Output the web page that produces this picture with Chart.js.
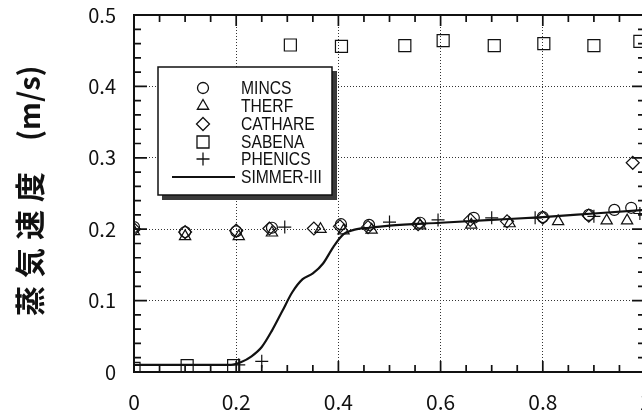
<!DOCTYPE html>
<html><head><meta charset="utf-8">
<script src="https://cdn.jsdelivr.net/npm/chart.js@4"></script>
<style>
html,body{margin:0;padding:0;overflow:hidden;background:#fff;width:642px;height:411px}
#wrap{position:absolute;left:0;top:0;width:662px;height:411px}
</style></head><body><div id="wrap"><canvas id="c" width="662" height="411"></canvas></div>
<script>
// ---- data ----
const mincsX = [0, 0.10, 0.20, 0.27, 0.405, 0.46, 0.56, 0.665, 0.80, 0.89, 0.94, 0.973];
const mincsY = [0.203, 0.196, 0.197, 0.202, 0.207, 0.206, 0.209, 0.216, 0.217, 0.220, 0.227, 0.230];
const therfX = [0, 0.10, 0.205, 0.27, 0.365, 0.41, 0.465, 0.56, 0.66, 0.735, 0.83, 0.925, 0.965];
const therfY = [0.197, 0.190, 0.190, 0.195, 0.200, 0.198, 0.199, 0.205, 0.206, 0.208, 0.211, 0.212, 0.212];
const cathareX = [0, 0.10, 0.20, 0.265, 0.352, 0.403, 0.458, 0.556, 0.658, 0.73, 0.80, 0.89, 0.976];
const cathareY = [0.200, 0.196, 0.198, 0.201, 0.201, 0.204, 0.203, 0.207, 0.213, 0.211, 0.216, 0.219, 0.293];
const sabenaX = [0, 0.104, 0.195, 0.306, 0.406, 0.53, 0.605, 0.705, 0.802, 0.90, 0.99];
const sabenaY = [0.005, 0.009, 0.009, 0.458, 0.456, 0.457, 0.464, 0.457, 0.460, 0.457, 0.463];
const phenicsX = [0, 0.205, 0.25, 0.295, 0.50, 0.595, 0.70, 0.785, 0.90, 0.99];
const phenicsY = [0.200, 0.010, 0.015, 0.203, 0.210, 0.213, 0.216, 0.216, 0.218, 0.222];
const simmerX = [0, 0.10, 0.19, 0.21, 0.23, 0.25, 0.27, 0.29, 0.31, 0.33, 0.35, 0.37, 0.39, 0.41, 0.43, 0.46, 0.50, 0.60, 0.70, 0.80, 0.90, 1.00];
const simmerY = [0.010, 0.010, 0.010, 0.014, 0.022, 0.035, 0.058, 0.085, 0.112, 0.130, 0.138, 0.152, 0.175, 0.193, 0.199, 0.202, 0.205, 0.209, 0.213, 0.217, 0.222, 0.227];

const seriesNames = ['MINCS', 'THERF', 'CATHARE', 'SABENA', 'PHENICS', 'SIMMER-III'];
const xTickLabels = ['0', '0.2', '0.4', '0.6', '0.8', '1'];
const yTickLabels = ['0', '0.1', '0.2', '0.3', '0.4', '0.5'];
const xMajor = [0.2, 0.4, 0.6, 0.8];
const xMinor = [0.05, 0.1, 0.15, 0.25, 0.3, 0.35, 0.45, 0.5, 0.55, 0.65, 0.7, 0.75, 0.85, 0.9, 0.95];
const yMajor = [0.1, 0.2, 0.3, 0.4];
const yMinor = [0.02, 0.04, 0.06, 0.08, 0.12, 0.14, 0.16, 0.18, 0.22, 0.24, 0.26, 0.28, 0.32, 0.34, 0.36, 0.38, 0.42, 0.44, 0.46, 0.48];
const yTitleChars = ['蒸', '気', '速', '度'];
const yTitleUnit = '(m/s)';

const pts = (xs, ys) => xs.map((x, i) => ({x, y: ys[i]}));
const INK = '#111';
const mk = (label, xs, ys, style, r) => ({
  label, data: pts(xs, ys), type: 'scatter', showLine: false,
  pointStyle: style, pointRadius: r, pointHoverRadius: r,
  borderColor: INK, backgroundColor: 'rgba(0,0,0,0)', pointBorderWidth: 1.2, borderWidth: 1.2
});

const datasets = [
  {label: seriesNames[5], data: pts(simmerX, simmerY), type: 'line', borderColor: INK, borderWidth: 2.2,
   pointRadius: 0, cubicInterpolationMode: 'monotone', fill: false},
  mk(seriesNames[0], mincsX, mincsY, 'circle', 5.5),
  mk(seriesNames[1], therfX, therfY, 'triangle', 6.5),
  mk(seriesNames[2], cathareX, cathareY, 'rectRot', 6.5),
  mk(seriesNames[3], sabenaX, sabenaY, 'rect', 8.5),
  mk(seriesNames[4], phenicsX, phenicsY, 'cross', 6.5)
];

// pin the plot area to the reference's position
const AREA = {left: 134, top: 15, right: 645, bottom: 372};
const pinPlugin = {
  id: 'pin',
  afterLayout(chart) {
    const {x, y} = chart.scales;
    const H = chart.height;
    Object.assign(chart.chartArea, {left: AREA.left, top: AREA.top, right: AREA.right, bottom: AREA.bottom,
      width: AREA.right - AREA.left, height: AREA.bottom - AREA.top});
    Object.assign(x, {left: AREA.left, right: AREA.right, width: AREA.right - AREA.left,
      top: AREA.bottom, bottom: H, height: H - AREA.bottom});
    Object.assign(y, {left: 0, right: AREA.left, width: AREA.left,
      top: AREA.top, bottom: AREA.bottom, height: AREA.bottom - AREA.top});
    x.configure(); y.configure();
    x._labelItems = null; y._labelItems = null;
    x._gridLineItems = null; y._gridLineItems = null;
  }
};

const framePlugin = {
  id: 'frame',
  afterDatasetsDraw(chart) {
    const {ctx, chartArea: a, scales: {x, y}} = chart;
    ctx.save();
    ctx.strokeStyle = INK;
    ctx.lineWidth = 2;
    ctx.strokeRect(a.left, a.top, a.right - a.left, a.bottom - a.top);
    ctx.lineWidth = 1.7;
    ctx.beginPath();
    const tx = (v, len) => { const p = x.getPixelForValue(v);
      ctx.moveTo(p, a.bottom); ctx.lineTo(p, a.bottom - len);
      ctx.moveTo(p, a.top); ctx.lineTo(p, a.top + len); };
    const ty = (v, len) => { const p = y.getPixelForValue(v);
      ctx.moveTo(a.left, p); ctx.lineTo(a.left + len, p);
      ctx.moveTo(a.right, p); ctx.lineTo(a.right - len, p); };
    xMajor.forEach(v => tx(v, 11)); xMinor.forEach(v => tx(v, 7));
    yMajor.forEach(v => ty(v, 13)); yMinor.forEach(v => ty(v, 7));
    ctx.stroke();
    ctx.restore();
  }
};

const titlePlugin = {
  id: 'yTitle',
  afterDraw(chart) {
    const ctx = chart.ctx;
    ctx.save();
    ctx.translate(29, 0);
    ctx.rotate(-Math.PI / 2);
    ctx.fillStyle = INK;
    ctx.textAlign = 'center';
    ctx.textBaseline = 'middle';
    ctx.font = 'bold 30px "Noto Sans CJK JP", sans-serif';
    const centers = [301, 263, 225, 187];
    yTitleChars.forEach((ch, i) => ctx.fillText(ch, -centers[i], 1));
    ctx.font = 'bold 29px "Noto Sans CJK JP", sans-serif';
    ctx.textAlign = 'left';
    ctx.fillText(yTitleUnit, -141, 0);
    ctx.restore();
  }
};

function drawSym(ctx, style, cx, cy, r) {
  ctx.beginPath();
  if (style === 'circle') { ctx.arc(cx, cy, r, 0, Math.PI * 2); }
  else if (style === 'triangle') {
    ctx.moveTo(cx, cy - r); ctx.lineTo(cx + r * Math.sin(2.0944), cy - r * Math.cos(2.0944));
    ctx.lineTo(cx - r * Math.sin(2.0944), cy - r * Math.cos(2.0944)); ctx.closePath();
  } else if (style === 'rectRot') {
    ctx.moveTo(cx, cy - r); ctx.lineTo(cx + r, cy); ctx.lineTo(cx, cy + r); ctx.lineTo(cx - r, cy); ctx.closePath();
  } else if (style === 'rect') {
    const s = r * Math.SQRT1_2; ctx.rect(cx - s, cy - s, 2 * s, 2 * s);
  } else if (style === 'cross') {
    ctx.moveTo(cx - r, cy); ctx.lineTo(cx + r, cy); ctx.moveTo(cx, cy - r); ctx.lineTo(cx, cy + r);
  }
  ctx.stroke();
}

const legendPlugin = {
  id: 'boxLegend',
  afterDraw(chart) {
    const ctx = chart.ctx;
    const L = 158, T = 67, W = 174, H = 128;
    ctx.save();
    ctx.fillStyle = '#3a3a3a';
    ctx.fillRect(L + 4, T + 4, W + 1, H + 1);
    ctx.fillStyle = '#fff';
    ctx.fillRect(L, T, W, H);
    ctx.strokeStyle = INK; ctx.lineWidth = 1.5;
    ctx.strokeRect(L, T, W, H);
    const rows = [88, 106, 124, 142, 159, 177];
    const order = [1, 2, 3, 4, 5, 0];
    ctx.textBaseline = 'middle';
    ctx.textAlign = 'left';
    order.forEach((di, i) => {
      const ds = chart.data.datasets[di];
      const yy = rows[i];
      ctx.strokeStyle = INK; ctx.fillStyle = INK;
      if (ds.type === 'line') {
        ctx.lineWidth = 2.2;
        ctx.beginPath(); ctx.moveTo(172, yy); ctx.lineTo(235, yy); ctx.stroke();
      } else {
        ctx.lineWidth = 1.3;
        drawSym(ctx, ds.pointStyle, 203, yy, ds.pointRadius);
      }
      ctx.save();
      ctx.translate(241, yy + 1);
      ctx.scale(0.87, 1);
      ctx.font = '18px "Liberation Sans", Arial, sans-serif';
      ctx.fillText(ds.label, 0, 0);
      ctx.restore();
    });
    ctx.restore();
  }
};

new Chart(document.getElementById('c'), {
  type: 'scatter',
  data: {datasets},
  options: {
    responsive: false, animation: false, devicePixelRatio: 1,
    plugins: {legend: {display: false}, tooltip: {enabled: false}},
    scales: {
      x: {
        type: 'linear', min: 0, max: 1,
        grid: {color: '#333', lineWidth: 1, drawTicks: false},
        border: {display: false, dash: [1, 2]},
        ticks: {stepSize: 0.2, padding: 17, color: INK, maxRotation: 0,
          font: {family: '"Noto Sans CJK JP", "Noto Sans", sans-serif', size: 21},
          callback: (v, i) => xTickLabels[i]}
      },
      y: {
        type: 'linear', min: 0, max: 0.5,
        grid: {color: '#333', lineWidth: 1, drawTicks: false},
        border: {display: false, dash: [1, 2]},
        ticks: {stepSize: 0.1, padding: 18, color: INK,
          font: {family: '"Noto Sans CJK JP", "Noto Sans", sans-serif', size: 20},
          callback: (v, i) => yTickLabels[i]}
      }
    }
  },
  plugins: [pinPlugin, framePlugin, legendPlugin, titlePlugin]
});
</script></body></html>
